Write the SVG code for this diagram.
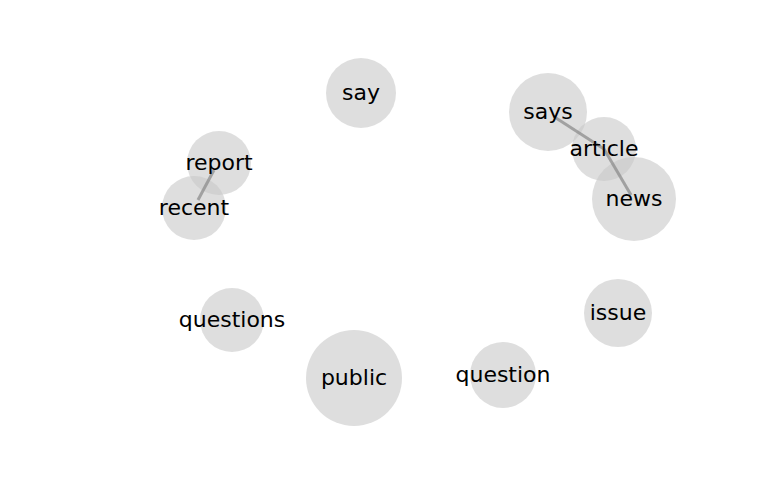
<svg xmlns="http://www.w3.org/2000/svg" width="768" height="500" viewBox="0 0 768 500">
<style>
.n circle{fill:#c8c8c8;fill-opacity:0.6}
.n text{font-family:"DejaVu Sans",sans-serif;font-size:22px;fill:#000;text-anchor:middle;dominant-baseline:central}
.e line{stroke:#888;stroke-width:3;stroke-opacity:0.7}
</style>
<rect width="768" height="500" fill="#fff"/>
<g class="n">
<circle cx="361" cy="93" r="35"/>
<circle cx="548" cy="112" r="39"/>
<circle cx="604" cy="149" r="32"/>
<circle cx="634" cy="199" r="42"/>
<circle cx="219" cy="163" r="32"/>
<circle cx="194" cy="208" r="32"/>
<circle cx="232" cy="320" r="32"/>
<circle cx="354" cy="378" r="48"/>
<circle cx="503" cy="375" r="33"/>
<circle cx="618" cy="313" r="34"/>
</g>
<g id="edges" class="e">
<line x1="556" y1="118" x2="604" y2="149"/>
<line x1="604" y1="149" x2="631" y2="195"/>
<line x1="214" y1="170" x2="198" y2="200"/>
</g>
<g id="say" class="n"><text x="361" y="92">say</text></g>
<g id="says" class="n"><text x="548" y="111">says</text></g>
<g id="article" class="n"><text x="604" y="148">article</text></g>
<g id="news" class="n"><text x="634" y="198">news</text></g>
<g id="report" class="n"><text x="219" y="162">report</text></g>
<g id="recent" class="n"><text x="194" y="207">recent</text></g>
<g id="questions" class="n"><text x="232" y="319">questions</text></g>
<g id="public" class="n"><text x="354" y="377">public</text></g>
<g id="question" class="n"><text x="503" y="374">question</text></g>
<g id="issue" class="n"><text x="618" y="312">issue</text></g>
</svg>
